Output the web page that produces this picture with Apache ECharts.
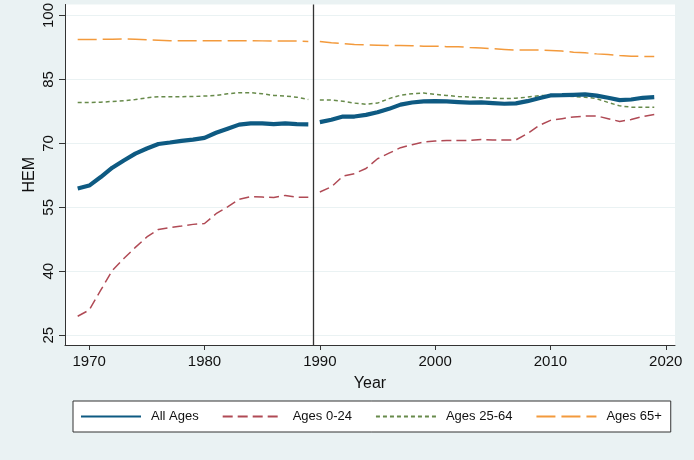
<!DOCTYPE html>
<html>
<head>
<meta charset="utf-8">
<script src="https://cdn.jsdelivr.net/npm/echarts@6/dist/echarts.min.js"></script>
<style>
  html, body { margin: 0; padding: 0; background: #eaf2f3; }
  #chart { width: 694px; height: 460px; }
</style>
</head>
<body>
<div id="chart"></div>
<script>
// years before and after the series break
var yearsEarly = [1969, 1970, 1971, 1972, 1973, 1974, 1975, 1976, 1977, 1978, 1979,
                  1980, 1981, 1982, 1983, 1984, 1985, 1986, 1987, 1988, 1989];
var yearsLate = [1990, 1991, 1992, 1993, 1994, 1995, 1996, 1997, 1998, 1999,
                 2000, 2001, 2002, 2003, 2004, 2005, 2006, 2007, 2008, 2009,
                 2010, 2011, 2012, 2013, 2014, 2015, 2016, 2017, 2018, 2019];
var breakYear = 1989.4;

var allAgesEarly = [59.4, 60.1, 62.1, 64.3, 66.0, 67.6, 68.8, 69.85, 70.2, 70.6, 70.9,
                    71.3, 72.5, 73.45, 74.4, 74.7, 74.7, 74.5, 74.7, 74.5, 74.45];
var allAgesLate = [75.0, 75.55, 76.3, 76.3, 76.7, 77.3, 78.1, 79.1, 79.6, 79.85,
                   79.9, 79.85, 79.7, 79.55, 79.6, 79.45, 79.3, 79.4, 79.9, 80.6,
                   81.25, 81.3, 81.4, 81.5, 81.2, 80.7, 80.15, 80.3, 80.7, 80.85];

var ages0to24Early = [29.45, 30.9, 35.55, 40.2, 43.0, 45.6, 48.05, 49.8, 50.25, 50.6, 51.0,
                      51.2, 53.5, 55.1, 56.9, 57.5, 57.4, 57.3, 57.8, 57.35, 57.35];
var ages0to24Late = [58.6, 59.8, 62.3, 62.9, 64.1, 66.4, 67.7, 69.0, 69.7, 70.3,
                     70.55, 70.7, 70.7, 70.7, 70.9, 70.8, 70.8, 70.8, 72.3, 74.2,
                     75.4, 75.8, 76.2, 76.4, 76.45, 75.8, 75.15, 75.6, 76.3, 76.8];

var ages25to64Early = [79.6, 79.6, 79.65, 79.85, 80.0, 80.3, 80.7, 80.95, 80.95, 80.95, 81.0,
                       81.1, 81.25, 81.65, 81.9, 81.9, 81.65, 81.25, 81.1, 80.85, 80.3];
var ages25to64Late = [80.2, 80.15, 79.9, 79.45, 79.2, 79.45, 80.5, 81.3, 81.65, 81.8,
                      81.5, 81.25, 81.0, 80.85, 80.7, 80.6, 80.5, 80.6, 80.85, 81.2,
                      81.3, 81.2, 81.0, 80.85, 80.5, 79.6, 78.8, 78.5, 78.5, 78.5];

var ages65Early = [94.4, 94.4, 94.4, 94.45, 94.5, 94.45, 94.3, 94.2, 94.1, 94.1, 94.1,
                   94.1, 94.1, 94.1, 94.1, 94.1, 94.05, 94.0, 94.0, 94.0, 93.9];
var ages65Late = [93.9, 93.6, 93.4, 93.2, 93.1, 93.05, 92.95, 92.95, 92.9, 92.8,
                  92.8, 92.7, 92.7, 92.5, 92.35, 92.2, 92.05, 91.9, 91.9, 91.9,
                  91.8, 91.65, 91.4, 91.25, 91.0, 90.85, 90.6, 90.45, 90.4, 90.4];

var xTicks = [1970, 1980, 1990, 2000, 2010, 2020];
var yTicks = [25, 40, 55, 70, 85, 100];

var font = "'Liberation Sans', Arial, sans-serif";

// join both periods, leaving a gap at the break
function joinSegments(early, late) {
    var pts = [];
    yearsEarly.forEach(function (y, i) { pts.push([y, early[i]]); });
    pts.push([breakYear, '-']);
    yearsLate.forEach(function (y, i) { pts.push([y, late[i]]); });
    return pts;
}

function lineSeries(name, early, late, color, width, dash) {
    return {
        name: name,
        type: 'line',
        symbol: 'none',
        connectNulls: false,
        lineStyle: { color: color, width: width, type: dash },
        itemStyle: { color: color },
        data: joinSegments(early, late)
    };
}

var chart = echarts.init(document.getElementById('chart'));

var series = [
    lineSeries('All Ages', allAgesEarly, allAgesLate, '#0e5a82', 4.2, 'solid'),
    lineSeries('Ages 0-24', ages0to24Early, ages0to24Late, '#b04a55', 1.5, [10, 5]),
    lineSeries('Ages 25-64', ages25to64Early, ages25to64Late, '#678a4a', 1.5, [4, 3]),
    lineSeries('Ages 65+', ages65Early, ages65Late, '#f39a3c', 1.5, [19, 6])
];
series[0].z = 5;
series[0].markLine = {
    silent: true,
    symbol: 'none',
    label: { show: false },
    lineStyle: { color: '#333', width: 1.3, type: 'solid' },
    data: [{ xAxis: breakYear }]
};

chart.setOption({
    backgroundColor: '#eaf2f3',
    animation: false,
    textStyle: { fontFamily: font },
    grid: {
        left: 65, right: 19, top: 4, bottom: 115,
        show: true, backgroundColor: '#ffffff', borderWidth: 0
    },
    legend: {
        left: 73, top: 401,
        padding: [9, 9, 9, 7],
        itemGap: 23,
        itemWidth: 60,
        itemHeight: 14,
        itemStyle: { opacity: 0 },
        backgroundColor: '#ffffff',
        borderColor: '#333',
        borderWidth: 1,
        borderRadius: 0,
        textStyle: { fontFamily: font, fontSize: 13, color: '#111', padding: [0, 0, 0, 5] },
        data: ['All Ages', 'Ages 0-24', 'Ages 25-64', 'Ages 65+']
    },
    xAxis: {
        type: 'value',
        min: 1967.9,
        max: 2020.8,
        name: 'Year',
        nameLocation: 'middle',
        nameGap: 31,
        nameMoveOverlap: false,
        nameTextStyle: { fontFamily: font, fontSize: 16, color: '#111' },
        axisLine: { show: true, lineStyle: { color: '#333', width: 1 } },
        axisTick: { show: true, length: 5, customValues: xTicks, lineStyle: { color: '#333' } },
        axisLabel: {
            customValues: xTicks, margin: 9,
            formatter: function (v) { return String(v); },
            fontFamily: font, fontSize: 15, color: '#111'
        },
        splitLine: { show: false }
    },
    yAxis: {
        type: 'value',
        min: 22.7,
        max: 102.6,
        name: 'HEM',
        nameLocation: 'middle',
        nameGap: 27,
        nameMoveOverlap: false,
        nameTextStyle: { fontFamily: font, fontSize: 16, color: '#111' },
        axisLine: { show: true, lineStyle: { color: '#333', width: 1 } },
        axisTick: { show: true, length: 6, customValues: yTicks, lineStyle: { color: '#333' } },
        axisLabel: {
            customValues: yTicks, rotate: 90, margin: 9,
            fontFamily: font, fontSize: 15, color: '#111'
        },
        splitLine: { show: true, lineStyle: { color: '#eaf2f3', width: 1 } }
    },
    series: series
});
</script>
</body>
</html>
